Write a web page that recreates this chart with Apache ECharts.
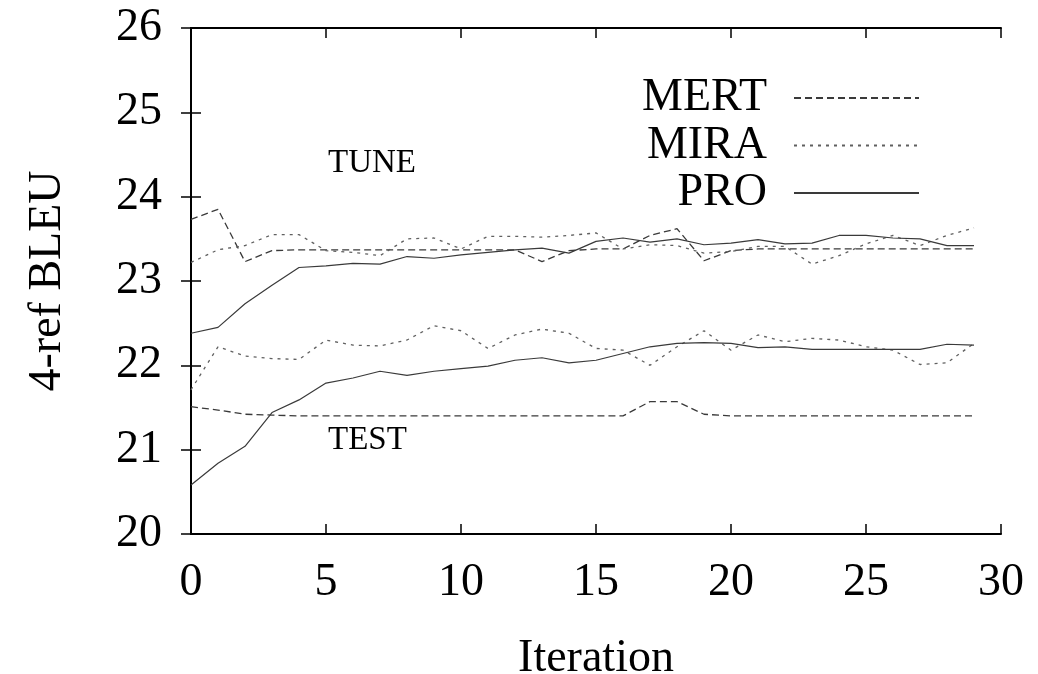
<!DOCTYPE html>
<html>
<head>
<meta charset="utf-8">
<script src="https://cdn.jsdelivr.net/npm/echarts@6/dist/echarts.min.js"></script>
<style>
  html, body { margin: 0; padding: 0; background: #fff; }
  #chart { width: 1038px; height: 674px; }
</style>
</head>
<body>
<div id="chart"></div>
<script>
// iteration index (x)
var iterations = [0, 1, 2, 3, 4, 5, 6, 7, 8, 9, 10, 11, 12, 13, 14, 15, 16, 17, 18, 19, 20, 21, 22, 23, 24, 25, 26, 27, 28, 29];

// tuning set BLEU
var mertTune = [23.73, 23.85, 23.23, 23.36, 23.37, 23.37, 23.37, 23.37, 23.37, 23.37, 23.37, 23.37, 23.37, 23.23, 23.36, 23.38, 23.38, 23.54, 23.62, 23.24, 23.36, 23.38, 23.38, 23.38, 23.38, 23.38, 23.38, 23.38, 23.38, 23.38];
var miraTune = [23.22, 23.37, 23.42, 23.55, 23.55, 23.36, 23.34, 23.30, 23.50, 23.51, 23.38, 23.53, 23.53, 23.52, 23.54, 23.57, 23.38, 23.43, 23.42, 23.33, 23.35, 23.41, 23.41, 23.20, 23.30, 23.44, 23.54, 23.42, 23.54, 23.63];
var proTune = [22.38, 22.45, 22.73, 22.95, 23.16, 23.18, 23.21, 23.20, 23.29, 23.27, 23.31, 23.34, 23.37, 23.39, 23.33, 23.47, 23.51, 23.46, 23.50, 23.43, 23.45, 23.49, 23.44, 23.45, 23.54, 23.54, 23.51, 23.50, 23.42, 23.42];

// test set BLEU
var mertTest = [21.51, 21.47, 21.42, 21.41, 21.40, 21.40, 21.40, 21.40, 21.40, 21.40, 21.40, 21.40, 21.40, 21.40, 21.40, 21.40, 21.40, 21.57, 21.57, 21.42, 21.40, 21.40, 21.40, 21.40, 21.40, 21.40, 21.40, 21.40, 21.40, 21.40];
var miraTest = [21.71, 22.22, 22.11, 22.08, 22.07, 22.30, 22.24, 22.23, 22.30, 22.47, 22.41, 22.20, 22.36, 22.43, 22.38, 22.20, 22.18, 22.00, 22.22, 22.41, 22.18, 22.36, 22.28, 22.32, 22.30, 22.22, 22.18, 22.01, 22.03, 22.26];
var proTest = [20.58, 20.84, 21.04, 21.44, 21.59, 21.79, 21.85, 21.93, 21.88, 21.93, 21.96, 21.99, 22.06, 22.09, 22.03, 22.06, 22.14, 22.22, 22.26, 22.27, 22.26, 22.21, 22.22, 22.19, 22.19, 22.19, 22.19, 22.19, 22.25, 22.24];

var xTicks = [0, 5, 10, 15, 20, 25, 30];
var yTicks = [20, 21, 22, 23, 24, 25, 26];

var FONT = "Liberation Serif";

function pairs(vals) {
    return iterations.map(function (it, i) { return [it, vals[i]]; });
}

var styles = {
    MERT: { color: "#3a3a3a", type: [7, 4], width: 1.3 },
    MIRA: { color: "#606060", type: [3, 5], width: 1.3 },
    PRO: { color: "#3a3a3a", type: "solid", width: 1.2 }
};

function lineSeries(name, vals) {
    return {
        name: name,
        type: "line",
        data: pairs(vals),
        symbol: "none",
        silent: true,
        animation: false,
        itemStyle: { color: styles[name].color },
        lineStyle: styles[name]
    };
}

var axisCommon = {
    type: "value",
    axisLine: { show: true, lineStyle: { color: "#000", width: 2 } },
    axisTick: { show: true, inside: true, length: 10, lineStyle: { color: "#000", width: 1.5 } },
    splitLine: { show: false }
};

var chart = echarts.init(document.getElementById("chart"));
chart.setOption({
    backgroundColor: "#fff",
    animation: false,
    grid: { left: 191, right: 37, top: 28, bottom: 140, outerBoundsMode: "none", containLabel: false },
    legend: {
        data: ["MERT", "MIRA", "PRO"],
        orient: "vertical",
        right: 118,
        top: 75,
        padding: 0,
        itemGap: 1.5,
        itemWidth: 125,
        itemHeight: 14,
        align: "right",
        selectedMode: false,
        itemStyle: { opacity: 0 },
        textStyle: {
            fontFamily: FONT,
            fontSize: 46,
            lineHeight: 46,
            color: "#000",
            width: 140,
            align: "right",
            padding: [0, 22, 0, 0]
        }
    },
    xAxis: [
        Object.assign({}, axisCommon, {
            position: "bottom",
            min: xTicks[0],
            max: xTicks[xTicks.length - 1],
            interval: 5,
            name: "Iteration",
            nameLocation: "middle",
            nameGap: 102,
            nameTextStyle: { fontFamily: FONT, fontSize: 46, color: "#000" },
            axisLabel: { fontFamily: FONT, fontSize: 46, color: "#000", margin: 26 }
        }),
        Object.assign({}, axisCommon, {
            position: "top",
            min: xTicks[0],
            max: xTicks[xTicks.length - 1],
            interval: 5,
            axisLabel: { show: false }
        })
    ],
    yAxis: [
        Object.assign({}, axisCommon, {
            position: "left",
            min: yTicks[0],
            max: yTicks[yTicks.length - 1],
            interval: 1,
            name: "4-ref BLEU",
            nameLocation: "middle",
            nameGap: 120,
            nameTextStyle: { fontFamily: FONT, fontSize: 46, color: "#000" },
            axisLabel: { fontFamily: FONT, fontSize: 46, color: "#000", margin: 29 }
        }),
        Object.assign({}, axisCommon, {
            position: "right",
            min: yTicks[0],
            max: yTicks[yTicks.length - 1],
            interval: 1,
            axisLabel: { show: false }
        })
    ],
    graphic: [
        { type: "text", left: 328, top: 147, style: { text: "TUNE", font: "33px 'Liberation Serif'", fill: "#000" } },
        { type: "text", left: 328, top: 424, style: { text: "TEST", font: "33px 'Liberation Serif'", fill: "#000" } }
    ],
    series: [
        lineSeries("MERT", mertTune),
        lineSeries("MIRA", miraTune),
        lineSeries("PRO", proTune),
        lineSeries("MERT", mertTest),
        lineSeries("MIRA", miraTest),
        lineSeries("PRO", proTest)
    ]
});
</script>
</body>
</html>
